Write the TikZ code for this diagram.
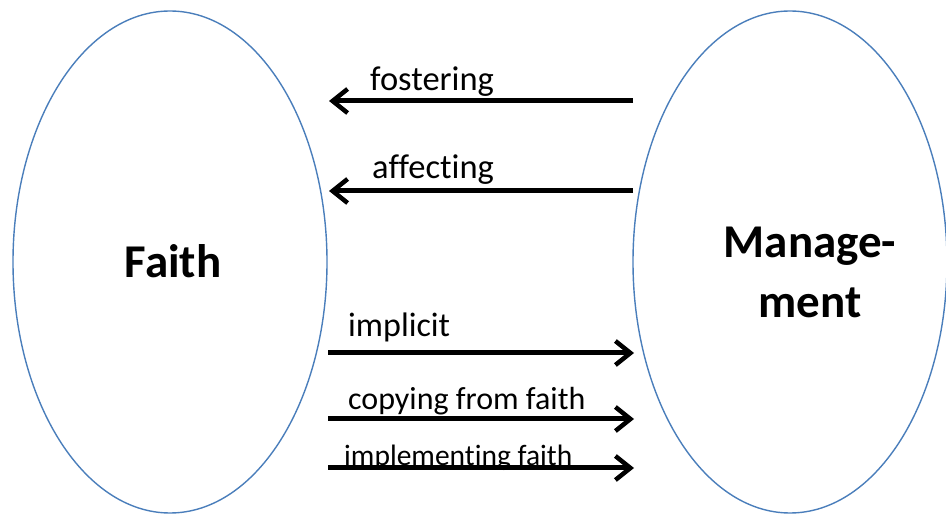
\documentclass[tikz,border=0pt]{standalone}
\usepackage{fontspec}
\setmainfont{Carlito}[Ligatures={NoCommon}]
\usetikzlibrary{shapes.geometric,arrows.meta}

\definecolor{ovalblue}{RGB}{74,126,187}

\tikzset{
	oval/.style={draw=ovalblue,line width=1.4pt,ellipse,minimum width=314pt,minimum height=502pt,inner sep=0pt},
	flow/.style={line width=5pt,-{Straight Barb[length=15pt,width=24pt,line width=4.5pt]}},
	lbl/.style={anchor=base west,inner sep=0pt,font=\fontsize{34.5}{40}\selectfont},
	big/.style={align=center,font=\fontsize{47}{60}\selectfont\bfseries}
}

\begin{document}
\begin{tikzpicture}[x=1pt,y=-1pt]
	
	\useasboundingbox (0,0) rectangle (946,521);
	
	%the two ovals
	\node[oval] (faith) at (170,262) {};
	\node[oval] (mgmt)  at (790,262) {};
	\node[big] (faithtxt) at (173,261) {Faith};
	\node[big] (mgmttxt)  at (810,272) {Manage-\\ment};
	
	%arrow ends
	\coordinate (fostA) at (633,101);	\coordinate (fostB) at (329,101);
	\coordinate (affA)  at (633,191);	\coordinate (affB)  at (329,191);
	\coordinate (implA) at (328,353);	\coordinate (implB) at (634,353);
	\coordinate (copyA) at (328,419);	\coordinate (copyB) at (634,419);
	\coordinate (mentA) at (328,468);	\coordinate (mentB) at (634,468);
	
	%captions
	\node[lbl] (fost) at (370,91)  {fostering};
	\node[lbl] (aff)  at (372,179) {affecting};
	\node[lbl,font=\fontsize{34}{40}\selectfont] (impl) at (348,337) {implicit};
	\node[lbl,font=\fontsize{32}{38}\selectfont] (copy) at (348,410) {copying from faith};
	\node[lbl,font=\fontsize{29.5}{35}\selectfont] (ment) at (344,465) {implementing faith};
	
	%management -> faith
	\draw[flow] (fostA) -- (fostB);
	\draw[flow] (affA) -- (affB);
	
	%faith -> management
	\draw[flow] (implA) -- (implB);
	\draw[flow] (copyA) -- (copyB);
	\draw[flow] (mentA) -- (mentB);
	
\end{tikzpicture}
\end{document}
